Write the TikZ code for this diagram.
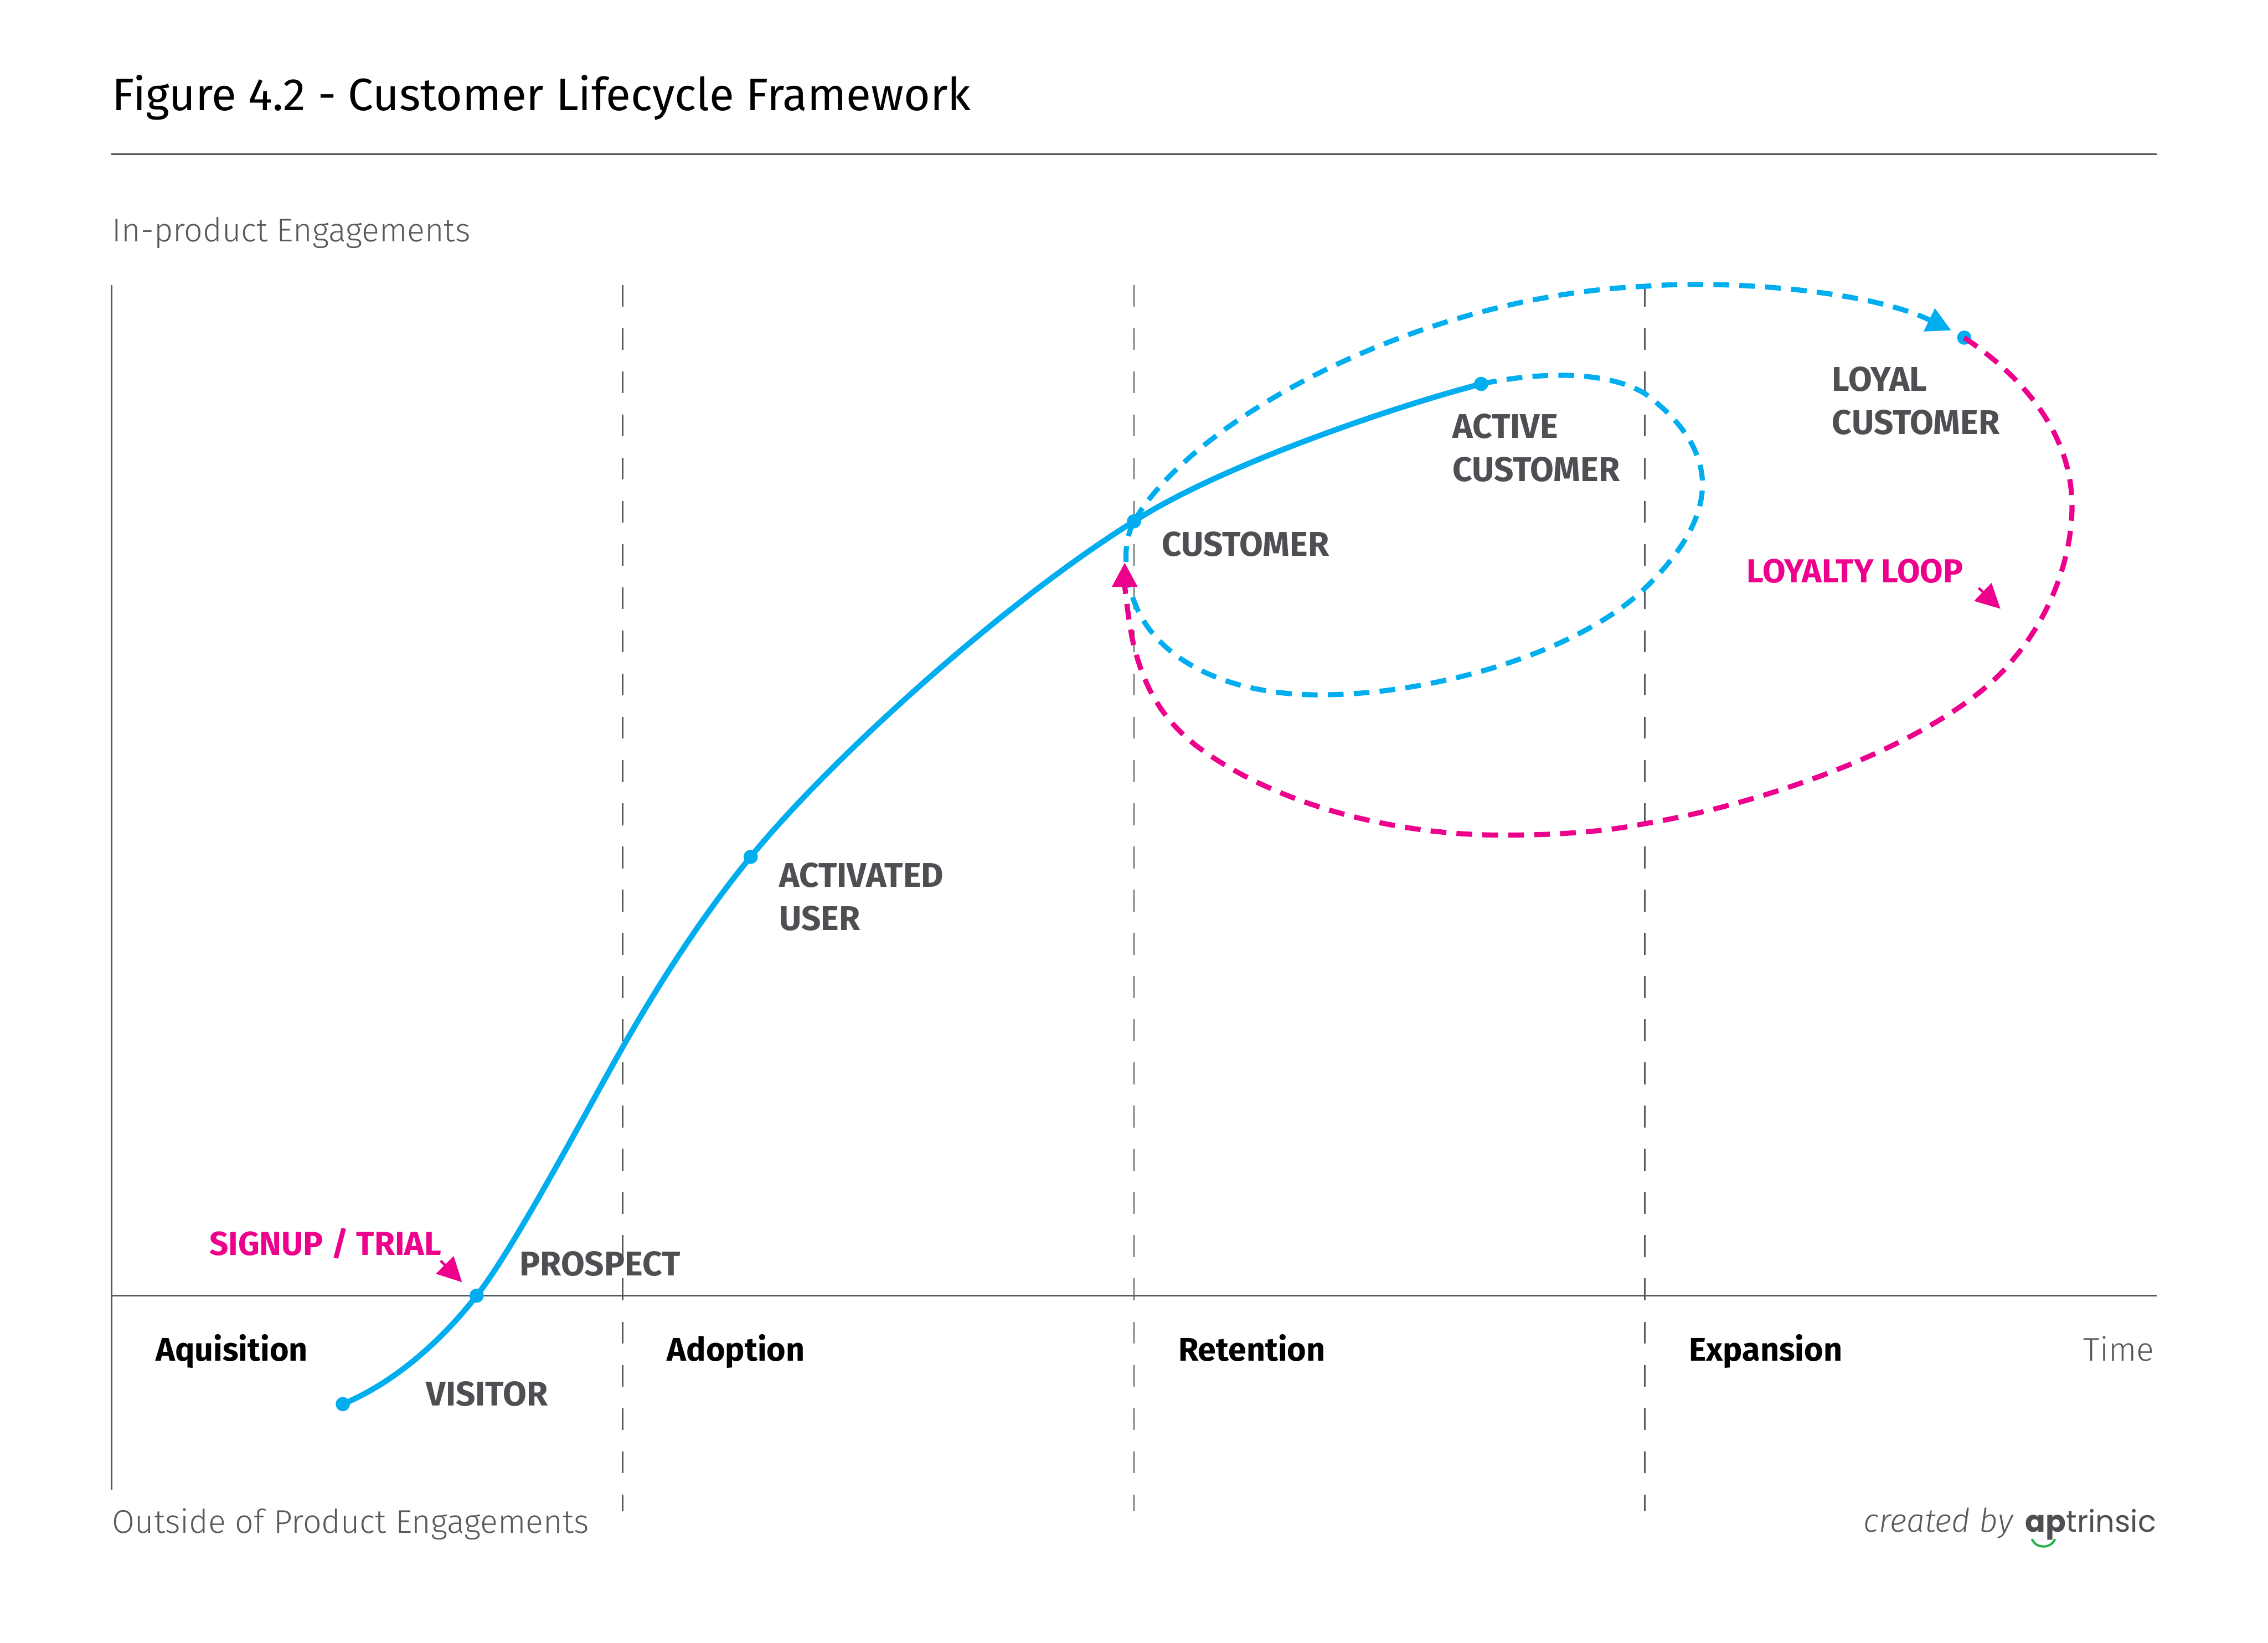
\documentclass[tikz,border=0pt]{standalone}
\usepackage{fontspec}
\usetikzlibrary{arrows.meta}
\setmainfont{Fira Sans}
\newfontfamily\lightfont{Fira Sans Light}
\newfontfamily\lightitfont{Fira Sans Light Italic}
\newfontfamily\logofont{Poppins}
\definecolor{lifeblue}{HTML}{00AEEF}
\definecolor{lifepink}{HTML}{EC008C}
\definecolor{lifegrey}{HTML}{4D4F53}
\definecolor{rulegrey}{HTML}{58595B}
\definecolor{smilegreen}{HTML}{22B24C}
\begin{document}
\begin{tikzpicture}[x=0.1mm, y=-0.1mm,
		dot/.style={circle, fill=lifeblue, inner sep=0pt, minimum size=2.8pt},
		axisline/.style={rulegrey, line width=0.3pt},
		phaseline/.style={rulegrey, line width=0.3pt, dash pattern=on 4.3pt off 4.2pt},
		solidcurve/.style={lifeblue, line width=1.1pt},
		bluedash/.style={lifeblue, line width=1pt, dash pattern=on 3.1pt off 2pt},
		pinkdash/.style={lifepink, line width=1pt, dash pattern=on 3.1pt off 2pt},
		stage/.style={anchor=base west, inner sep=0pt, font=\fontsize{6.75}{8.5}\selectfont\bfseries, text=lifegrey, align=left},
		callout/.style={anchor=base west, inner sep=0pt, font=\fontsize{6.55}{8.5}\selectfont\bfseries, text=lifepink},
		phase/.style={anchor=base west, inner sep=0pt, font=\fontsize{6.45}{8.5}\selectfont\bfseries},
		note/.style={anchor=base west, inner sep=0pt, font=\fontsize{6.45}{8.5}\selectfont\lightfont, text=rulegrey},
		tip/.style={-{Triangle[length=4.8pt, width=4.8pt]}}]
		\useasboundingbox (0, 0) rectangle (1568, 1136);

		\node [anchor=base west, inner sep=0pt, font=\fontsize{8.93}{10}\selectfont] (title) at (77, 76.5)
			{Figure 4.2 - Customer Lifecycle Framework};
		\coordinate (ruleleft) at (77, 106.5); \coordinate (ruleright) at (1491, 106.5);
		\draw [axisline] (ruleleft) -- (ruleright);

		\node [note] (yup) at (77, 167) {In-product Engagements};
		\node [note] (ydown) at (77, 1060) {Outside of Product Engagements};
		\node [note, anchor=base east] (time) at (1490, 941) {Time};

		\coordinate (axistop) at (77, 197); \coordinate (axisbottom) at (77, 1030);
		\coordinate (axisleft) at (77, 896); \coordinate (axisright) at (1491, 896);
		\draw [axisline] (axistop) -- (axisbottom);
		\draw [axisline] (axisleft) -- (axisright);

		\foreach \x/\name in {430.5/a, 784/b, 1137/c} {
			\coordinate (top\name) at (\x, 197); \coordinate (bot\name) at (\x, 1045);
			\draw [phaseline] (top\name) -- (bot\name);
		}

		\node [phase] (aquisition) at (107, 941) {Aquisition};
		\node [phase] (adoption) at (460.5, 941) {Adoption};
		\node [phase] (retention) at (814, 941) {Retention};
		\node [phase] (expansion) at (1167, 941) {Expansion};

		\node [dot] (visitor) at (237, 971) {};
		\node [dot] (prospect) at (329.5, 896) {};
		\node [dot] (activated) at (519, 592.5) {};
		\node [dot] (customer) at (784, 360.5) {};
		\node [dot] (active) at (1024, 265.5) {};
		\node [dot] (loyal) at (1358, 233.5) {};

		\draw [solidcurve] (visitor.center) .. controls (275, 955) and (307, 925) .. (prospect.center)
			.. controls (355, 864) and (405, 769) .. (430, 725)
			.. controls (455, 681) and (485, 634) .. (activated.center)
			.. controls (575, 524) and (694, 416.5) .. (customer.center)
			.. controls (842, 323) and (959, 282.5) .. (active.center);
		\draw [bluedash] (active.center) .. controls (1060, 258) and (1108, 255) .. (1137, 272)
			.. controls (1160, 289) and (1177, 310) .. (1177, 335)
			.. controls (1177, 360) and (1160, 385) .. (1137, 407)
			.. controls (1090, 452) and (990, 480.5) .. (912, 480.5)
			.. controls (840, 480.5) and (790, 450) .. (781, 405)
			.. controls (776, 385) and (779, 370) .. (customer.center);
		\coordinate (loyalend) at (1349, 228.5);
		\draw [bluedash, tip] (customer.center) .. controls (825, 290) and (980, 205) .. (1137, 198)
			.. controls (1190, 193.6) and (1290, 200) .. (loyalend);

		\coordinate (loopend) at (777.6, 389);
		\draw [pinkdash, tip] (loyal.center) .. controls (1405, 265) and (1432.5, 305) .. (1432.5, 350)
			.. controls (1432.5, 385) and (1418, 425) .. (1392.6, 455)
			.. controls (1350, 510) and (1225, 555) .. (1137, 569.6)
			.. controls (1105, 576) and (1070, 577.5) .. (1039, 577.5)
			.. controls (960, 577.5) and (880, 555) .. (828, 516.4)
			.. controls (800, 495) and (790, 470) .. (784, 447)
			.. controls (780, 430) and (777.6, 405) .. (loopend);

		\node [stage] (visitorlabel) at (294, 972) {VISITOR};
		\node [stage] (prospectlabel) at (358.5, 882) {PROSPECT};
		\node [stage, anchor=north west] (activatedlabel) at (538, 596) {ACTIVATED\\USER};
		\node [stage] (customerlabel) at (802.5, 384.5) {CUSTOMER};
		\node [stage, anchor=north west] (activelabel) at (1003.5, 285.5) {ACTIVE\\CUSTOMER};
		\node [stage, anchor=north west] (loyallabel) at (1266, 253) {LOYAL\\CUSTOMER};

		\node [callout] (signup) at (144, 868) {SIGNUP / TRIAL};
		\node [callout] (loop) at (1207, 403) {LOYALTY LOOP};
		\coordinate (signupfrom) at (304.6, 871.8); \coordinate (signupto) at (319.4, 886.7);
		\coordinate (loopfrom) at (1368, 406.6); \coordinate (loopto) at (1383, 421);
		\draw [lifepink, line width=0.5pt, tip] (signupfrom) -- (signupto);
		\draw [lifepink, line width=0.5pt, tip] (loopfrom) -- (loopto);

		\node [note, anchor=base east, font=\fontsize{6.4}{8.5}\selectfont\lightitfont] (created) at (1392.5, 1059.5) {created by};
		\node [anchor=base west, inner sep=0pt, text=lifegrey, font=\fontsize{5.9}{8.5}\selectfont\logofont] (logo) at (1399.6, 1059.5) {\textbf{ap}trinsic};
		\coordinate (smileleft) at (1405, 1064.8); \coordinate (smileright) at (1420.5, 1064.8);
		\draw [smilegreen, line width=0.45pt, line cap=round] (smileleft) .. controls (1408, 1071) and (1417.5, 1071) .. (smileright);
	\end{tikzpicture}
\end{document}
